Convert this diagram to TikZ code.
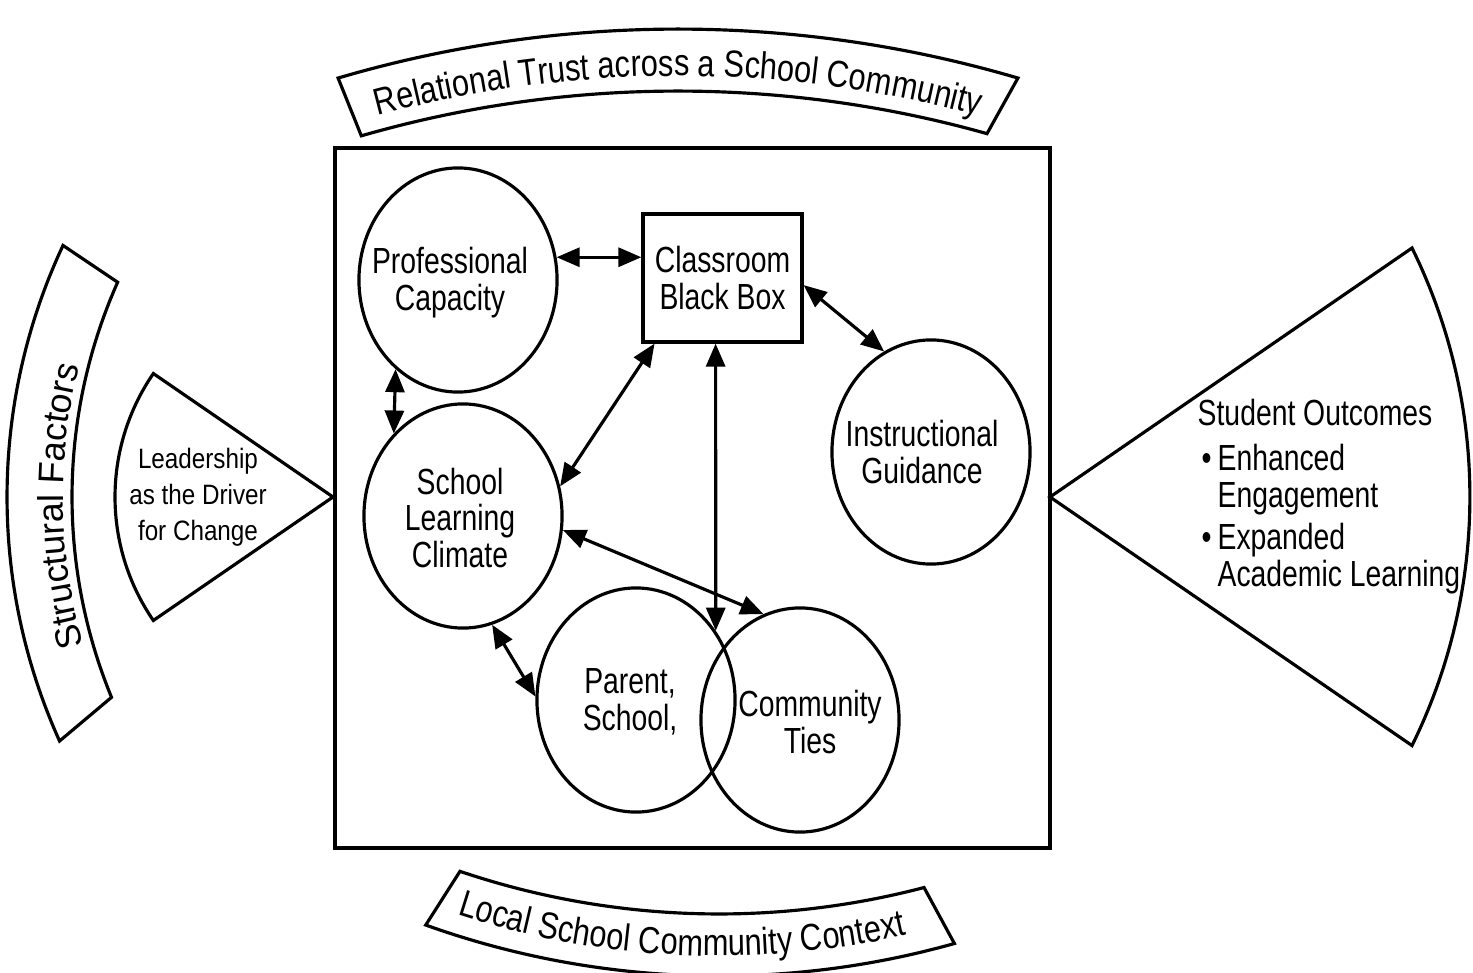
\documentclass[tikz,border=0pt]{standalone}
\usepackage{fontspec}
\setmainfont{Liberation Sans}
\newfontfamily\circfont[FakeStretch=0.78]{Liberation Sans}
\newfontfamily\bannerfont[FakeStretch=0.82]{Liberation Sans}
\newfontfamily\leadfont[FakeStretch=0.865]{Liberation Sans}
\usetikzlibrary{arrows.meta,shapes.geometric,decorations.text,calc}
\tikzset{
  outline/.style={draw, line width=0.9pt},
  bubble/.style={ellipse, draw, line width=0.9pt, minimum width=1.98cm, minimum height=2.24cm, inner sep=0pt},
  bubbletext/.style={align=center, inner sep=0pt, font=\circfont\fontsize{10.33pt}{10.5pt}\selectfont},
  biarrow/.style={line width=0.9pt, {Triangle[length=0.23cm,width=0.19cm]}-{Triangle[length=0.23cm,width=0.19cm]}},
}
\begin{document}
\begin{tikzpicture}[x=0.01cm,y=0.01cm]
\path[use as bounding box, fill=white] (0,0) rectangle (1473,972);

% main frame
\node[draw, line width=1pt, minimum width=7.15cm, minimum height=7.0cm, inner sep=0pt] (frame) at (692.5,474) {};

% top banner
\draw[outline] (678,-261) ++(106.4:1204) arc[start angle=106.4, end angle=73.6, radius=1204]
  -- ($(678,-261)+(74.3:1142)$) arc[start angle=74.3, end angle=106.1, radius=1142] -- cycle;
\path[decorate, decoration={text along path, text align=center,
  text={|\bannerfont\fontsize{10.67pt}{12pt}\selectfont|Relational Trust across a School Community}}]
  (678,-261) ++(110:1157) arc[start angle=110, end angle=70, radius=1157];

% bottom banner
\draw[outline] (719,866) ++(251.3:808) arc[start angle=251.3, end angle=284.7, radius=808]
  -- ($(719,866)+(285.7:870)$) arc[start angle=285.7, end angle=250.3, radius=870] -- cycle;
\path[decorate, decoration={text along path, text align=center,
  text={|\bannerfont\fontsize{10.67pt}{12pt}\selectfont|Local School Community Context}}]
  (719,866) ++(247.4:850) arc[start angle=247.4, end angle=287.4, radius=850];

% left band: structural factors
\draw[outline] (600,475) ++(154.9:593) arc[start angle=154.9, end angle=204.3, radius=593]
  -- ($(600,475)+(202.3:528)$) arc[start angle=202.3, end angle=156, radius=528] -- cycle;
\path[decorate, decoration={text along path, text align=center,
  text={|\fontsize{10.2pt}{12pt}\selectfont|Structural Factors}}]
  (600,475) ++(201:537) arc[start angle=201, end angle=161, radius=537];

% leadership sector
\draw[outline] (333,475) -- ++(145.5:218) arc[start angle=145.5, end angle=214.5, radius=218] -- cycle;
\node[align=center, inner sep=0pt, font=\leadfont\fontsize{7.97pt}{10.24pt}\selectfont] (lead) at (198,475)
  {Leadership\\as the Driver\\for Change};

% student outcomes sector
\draw[outline] (1050,475) -- (1412,724) arc[start angle=26.2, end angle=-26.2, radius=563.5] -- cycle;
\node[anchor=base west, inner sep=0pt, font=\circfont\fontsize{10.33pt}{10.5pt}\selectfont] (outcomes) at (1197,547)
  {\begin{tabular}[t]{@{\hspace{0.04cm}}l@{\hspace{0.06cm}}l@{}}
   \multicolumn{2}{@{}l@{}}{Student Outcomes}\\[2.3pt]
   \textbullet & Enhanced\\
   & Engagement\\[1.2pt]
   \textbullet & Expanded\\
   & Academic Learning
   \end{tabular}};

% inner elements
\node[bubble] (pc) at (458,692) {};
\node[bubbletext] (pct) at (450,689) {Professional\\Capacity};
\node[bubble] (slc) at (463,456) {};
\node[bubbletext] (slct) at (460,454) {School\\Learning\\Climate};
\node[bubble] (ig) at (931,520) {};
\node[bubbletext] (igt) at (922,520) {Instructional\\Guidance};
\node[bubble] (psc) at (636,272) {};
\node[bubbletext] (psct) at (630,270) {Parent,\\School,};
\node[bubble] (ct) at (800,252) {};
\node[bubbletext] (ctt) at (810,250) {Community\\Ties};
\node[draw, line width=0.9pt, minimum width=1.59cm, minimum height=1.28cm, inner sep=0pt,
  align=center, font=\circfont\fontsize{10.33pt}{10.5pt}\selectfont] (cbb) at (722.5,694) {Classroom\\Black Box};

% connectors
\draw[biarrow] (pc.13) -- (pc.13 -| cbb.west);
\draw[biarrow] (cbb.-5) -- (ig.115);
\draw[biarrow] (pc.235) -- (slc.130);
\draw[biarrow] (cbb.224) -- (slc.17);
\draw[biarrow] (cbb.264) -- (psc.41);
\draw[biarrow] (slc.-8) -- (ct.109);
\draw[biarrow] (slc.285) -- (psc.178);
\end{tikzpicture}
\end{document}
